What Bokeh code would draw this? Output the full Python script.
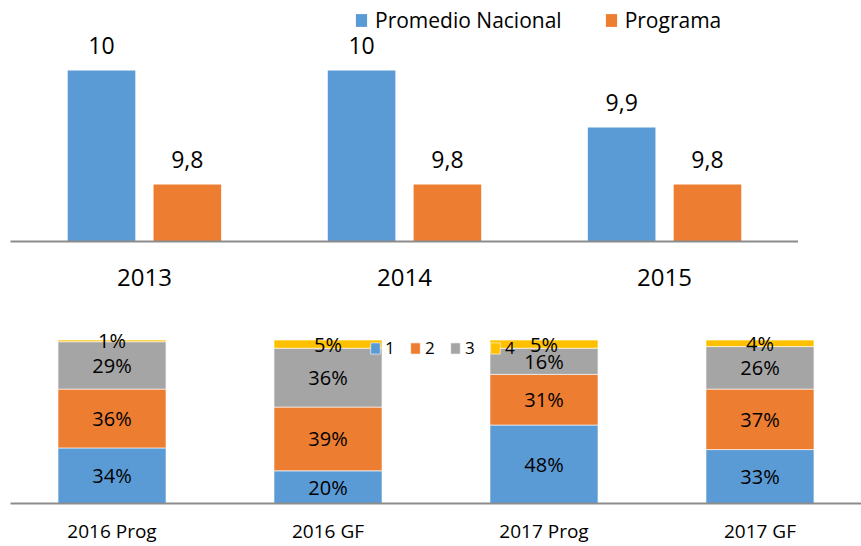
from bokeh.plotting import figure
from bokeh.models import ColumnDataSource, FactorRange, Range1d, Legend
from bokeh.layouts import column
from bokeh.transform import dodge
from bokeh.core.properties import value
from bokeh.embed import file_html
from bokeh.resources import INLINE

# ---------------- data ----------------
years = ["2013", "2014", "2015"]
promedio_nacional = [10.0, 10.0, 9.9]
programa = [9.8, 9.8, 9.8]

groups = ["2016 Prog", "2016 GF", "2017 Prog", "2017 GF"]
level_names = ["1", "2", "3", "4"]
level1 = [34, 20, 48, 33]
level2 = [36, 39, 31, 37]
level3 = [29, 36, 16, 26]
level4 = [1, 5, 5, 4]

BLUE = "#5B9BD5"
ORANGE = "#ED7D31"
GRAY = "#A5A5A5"
YELLOW = "#FFC000"
AXIS = "#8C8C8C"
FONT = "Open Sans"


def fmt(v):
    return f"{v:g}".replace(".", ",")


# ---------------- top chart ----------------
src1 = ColumnDataSource(dict(
    year=years,
    pn=promedio_nacional,
    pg=programa,
    pn_lab=[fmt(v) for v in promedio_nacional],
    pg_lab=[fmt(v) for v in programa],
))

base = 9.7
p1 = figure(width=798, height=300,
            x_range=FactorRange(factors=years, range_padding=0.015, range_padding_units="absolute"),
            y_range=Range1d(base, 10.123), output_backend="svg", toolbar_location=None,
            y_axis_location=None, min_border_left=7, min_border_right=0,
            min_border_top=0, min_border_bottom=59)
p1.outline_line_color = None
p1.grid.visible = False

r_pn = p1.vbar(x=dodge("year", -0.165, range=p1.x_range), top="pn", bottom=base, width=0.26,
               source=src1, fill_color=BLUE, line_color=None)
r_pg = p1.vbar(x=dodge("year", 0.165, range=p1.x_range), top="pg", bottom=base, width=0.26,
               source=src1, fill_color=ORANGE, line_color=None)

p1.text(x=dodge("year", -0.165, range=p1.x_range), y="pn", text="pn_lab", source=src1,
        text_align="center", text_baseline="alphabetic", y_offset=-25,
        text_font=value(FONT), text_font_size="23px", text_color="black")
p1.text(x=dodge("year", 0.165, range=p1.x_range), y="pg", text="pg_lab", source=src1,
        text_align="center", text_baseline="alphabetic", y_offset=-25,
        text_font=value(FONT), text_font_size="23px", text_color="black")

ax = p1.xaxis[0]
ax.axis_line_color = AXIS
ax.axis_line_width = 2
ax.major_tick_line_color = None
ax.minor_tick_line_color = None
ax.major_tick_out = 0
ax.major_tick_in = 0
ax.minor_tick_out = 0
ax.major_label_text_font = FONT
ax.major_label_text_font_size = "24px"
ax.major_label_text_color = "black"
ax.major_label_standoff = 27

leg1 = Legend(items=[("Promedio Nacional", [r_pn]), ("Programa", [r_pg])],
              orientation="horizontal", location=(344, 207),
              glyph_width=14, glyph_height=16, label_standoff=7, spacing=42,
              padding=0, margin=0, border_line_color=None, background_fill_alpha=0,
              label_text_font=FONT, label_text_font_size="21px", label_text_color="black")
p1.add_layout(leg1, "center")

# ---------------- bottom chart ----------------
cols = ["l1", "l2", "l3", "l4"]
data = dict(grp=groups, l1=level1, l2=level2, l3=level3, l4=level4)
src2 = ColumnDataSource(data)

p2 = figure(width=861, height=246,
            x_range=FactorRange(factors=groups, range_padding=-0.03, range_padding_units="absolute"),
            y_range=Range1d(0, 124.2), output_backend="svg", toolbar_location=None,
            y_axis_location=None, min_border_left=10, min_border_right=0,
            min_border_top=0, min_border_bottom=40)
p2.outline_line_color = None
p2.grid.visible = False

rs = p2.vbar_stack(cols, x="grp", width=0.5, source=src2,
                   fill_color=[BLUE, ORANGE, GRAY, YELLOW],
                   line_color="white", line_width=1, line_alpha=0.6)

# segment labels
lx, ly, lt = [], [], []
series = [level1, level2, level3, level4]
for i, g in enumerate(groups):
    cum = 0
    for s in series:
        v = s[i]
        lx.append(g)
        ly.append(cum + v / 2)
        lt.append(f"{v}%")
        cum += v
src_lab = ColumnDataSource(dict(x=lx, y=ly, t=lt))
p2.text(x="x", y="y", text="t", source=src_lab, text_align="center", text_baseline="middle",
        text_font=value(FONT), text_font_size="20px", text_color="black")

ax2 = p2.xaxis[0]
ax2.axis_line_color = AXIS
ax2.axis_line_width = 2
ax2.major_tick_line_color = None
ax2.minor_tick_line_color = None
ax2.major_tick_out = 0
ax2.major_tick_in = 0
ax2.minor_tick_out = 0
ax2.major_label_text_font = FONT
ax2.major_label_text_font_size = "19px"
ax2.major_label_text_color = "black"
ax2.major_label_standoff = 14

leg2 = Legend(items=[(n, [r]) for n, r in zip(level_names, rs)],
              orientation="horizontal", location=(359, 144),
              glyph_width=12, glyph_height=14, label_standoff=4, spacing=14,
              label_width=10, padding=0, margin=0, border_line_color=None,
              background_fill_alpha=0,
              label_text_font=FONT, label_text_font_size="17px", label_text_color="black")
p2.add_layout(leg2, "center")

layout = column(p1, p2, spacing=0)
open("out.html", "w").write(file_html(layout, INLINE))
